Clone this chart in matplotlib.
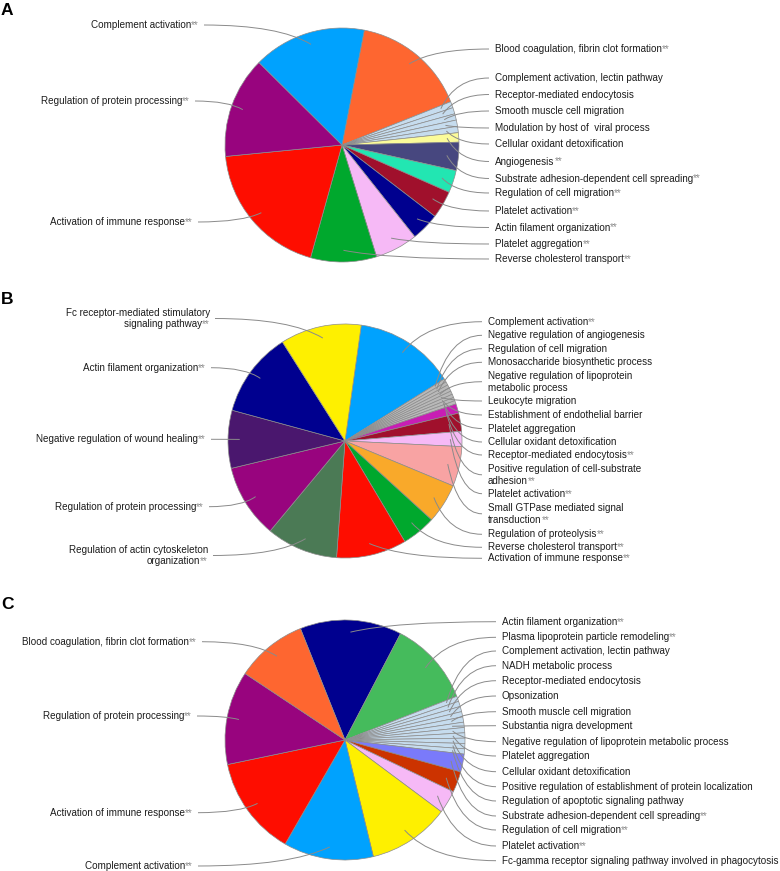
import numpy as np
import matplotlib
matplotlib.use("Agg")
import matplotlib.pyplot as plt
from matplotlib.path import Path
from matplotlib.patches import PathPatch

#######################################################
# DATA  (share of each GO term, clockwise)

A_terms = [
    "Blood coagulation, fibrin clot formation**",
    "Complement activation, lectin pathway",
    "Receptor-mediated endocytosis",
    "Smooth muscle cell migration",
    "Modulation by host of  viral process",
    "Cellular oxidant detoxification",
    "Angiogenesis**",
    "Substrate adhesion-dependent cell spreading**",
    "Regulation of cell migration**",
    "Platelet activation**",
    "Actin filament organization**",
    "Platelet aggregation**",
    "Reverse cholesterol transport**",
    "Activation of immune response**",
    "Regulation of protein processing**",
    "Complement activation**",
]
A_values = [15.9, 0.87, 0.87, 0.87, 0.87, 0.87, 1.3, 3.9, 3.1, 3.8,
            3.9, 5.9, 9.1, 19.1, 14.0, 15.6]
A_colors = ["#fe6630", "#c6dcee", "#c6dcee", "#c6dcee", "#c6dcee", "#c6dcee",
            "#fbfb9a", "#47477f", "#22e6b2", "#a0102c", "#00008f", "#f6b9f6",
            "#00a82d", "#fe0d00", "#98047e", "#00a2fe"]

B_terms = [
    "Complement activation**",
    "Negative regulation of angiogenesis",
    "Regulation of cell migration",
    "Monosaccharide biosynthetic process",
    "Negative regulation of lipoprotein\nmetabolic process",
    "Leukocyte migration",
    "Establishment of endothelial barrier",
    "Platelet aggregation",
    "Cellular oxidant detoxification",
    "Receptor-mediated endocytosis**",
    "Positive regulation of cell-substrate\nadhesion**",
    "Platelet activation**",
    "Small GTPase mediated signal\ntransduction**",
    "Regulation of proteolysis**",
    "Reverse cholesterol transport**",
    "Activation of immune response**",
    "Regulation of actin cytoskeleton\norganization**",
    "Regulation of protein processing**",
    "Negative regulation of wound healing**",
    "Actin filament organization**",
    "Fc receptor-mediated stimulatory\nsignaling pathway**",
]
B_values = [13.9, 0.47, 0.47, 0.47, 0.47, 0.47, 0.47, 0.47, 0.47, 1.3,
            2.5, 2.1, 5.5, 5.5, 4.7, 9.7, 9.9, 10.2, 8.0, 11.8, 11.2]
B_colors = ["#00a2fe", "#b9b9b9", "#b9b9b9", "#b9b9b9", "#b9b9b9", "#b9b9b9",
            "#b9b9b9", "#b9b9b9", "#b9b9b9", "#c81eb4", "#a0102c", "#f6b9f6",
            "#f8a3a3", "#f9a92a", "#00a82d", "#fe0d00", "#4b7a55", "#98047e",
            "#4a176e", "#00008f", "#fef000"]

C_terms = [
    "Actin filament organization**",
    "Plasma lipoprotein particle remodeling**",
    "Complement activation, lectin pathway",
    "NADH metabolic process",
    "Receptor-mediated endocytosis",
    "Opsonization",
    "Smooth muscle cell migration",
    "Substantia nigra development",
    "Negative regulation of lipoprotein metabolic process",
    "Platelet aggregation",
    "Cellular oxidant detoxification",
    "Positive regulation of establishment of protein localization",
    "Regulation of apoptotic signaling pathway",
    "Substrate adhesion-dependent cell spreading**",
    "Regulation of cell migration**",
    "Platelet activation**",
    "Fc-gamma receptor signaling pathway involved in phagocytosis",
    "Complement activation**",
    "Activation of immune response**",
    "Regulation of protein processing**",
    "Blood coagulation, fibrin clot formation**",
]
C_values = [13.7, 11.4, 0.71, 0.71, 0.71, 0.71, 0.71, 0.71, 0.71, 0.71,
            0.71, 0.71, 0.71, 2.4, 2.8, 3.1, 11.0, 12.1, 13.4, 12.6, 9.6]
C_colors = ["#00008f", "#45bb5c", "#c6dcee", "#c6dcee", "#c6dcee", "#c6dcee",
            "#c6dcee", "#c6dcee", "#c6dcee", "#c6dcee", "#c6dcee", "#c6dcee",
            "#c6dcee", "#7a7afa", "#cc3300", "#f6b9f6", "#fef000", "#00a2fe",
            "#fe0d00", "#98047e", "#fe6630"]

#######################################################
# LAYOUT (pixels, y measured from the top)

W, H = 780, 871
FONT = "Liberation Sans"
FS = 7.1
TXT = "#1c1c1c"
STAR = "#8a8a8a"
LINE = "#8a8a8a"
EDGE = "#8c8c8c"
LINE_GAP = 11.6

panels = [
    dict(letter="A", letter_y=3, terms=A_terms, values=A_values, colors=A_colors,
         center=(342, 145), radius=117, start=79,
         right_x=495,
         right_y=[49, 78, 94.5, 111, 128, 144, 161.5, 178.5, 193, 211, 227.5, 244, 259],
         left_x=[199, 190, 193], left_y=[25, 101, 222]),
    dict(letter="B", letter_y=292, terms=B_terms, values=B_values, colors=B_colors,
         center=(345, 441), radius=117, start=82,
         right_x=488,
         right_y=[321.7, 335.3, 348.7, 362.3, 381.7, 401, 415, 428.5, 442, 455,
                  474.8, 493.7, 513.8, 534.3, 547.3, 558.3],
         left_x=[210, 206, 206, 204, 208],
         left_y=[318.5, 367.7, 439.3, 506.7, 555.5]),
    dict(letter="C", letter_y=597, terms=C_terms, values=C_values, colors=C_colors,
         center=(345, 740), radius=120, start=111.8,
         right_x=502,
         right_y=[621.7, 637.3, 651, 665.7, 680.7, 696, 711.7, 725.7, 741.7, 756,
                  771.7, 786.7, 801, 816, 830, 846, 860.7],
         left_x=[197, 192, 193, 193], left_y=[641.7, 716, 812.7, 866]),
]


def put_line(ax, x, y, s, ha):
    star = s.endswith("**")
    body = s[:-2] if star else s
    kw = dict(fontsize=FS, family=FONT, va="center")
    if ha == "left":
        t = ax.text(x, y, body, ha="left", color=TXT, **kw)
        if star:
            ax.annotate("**", xy=(1, 0.5), xycoords=t, ha="left", color=STAR, **kw)
    else:
        if star:
            st = ax.text(x, y, "**", ha="right", color=STAR, **kw)
            ax.annotate(body, xy=(0, 0.5), xycoords=st, ha="right", color=TXT, **kw)
        else:
            ax.text(x, y, body, ha="right", color=TXT, **kw)


def put_label(ax, x, y, s, ha):
    lines = s.split("\n")
    n = len(lines)
    for j, line in enumerate(lines):
        put_line(ax, x, y - (j - (n - 1) / 2) * LINE_GAP, line, ha)


def leader(ax, p0, p3):
    x0, y0 = p0
    x3, y3 = p3
    c = (x3 + 0.3 * (x0 - x3), y0)
    path = Path([p0, c, p3], [Path.MOVETO, Path.CURVE3, Path.CURVE3])
    ax.add_patch(PathPatch(path, fill=False, edgecolor=LINE, lw=0.7, zorder=5))


fig = plt.figure(figsize=(7.8, 8.71), dpi=100)
ax = fig.add_axes([0, 0, 1, 1])

for p in panels:
    cx, cy = p["center"]
    r = p["radius"]
    wedges, _ = ax.pie(
        p["values"],
        colors=p["colors"],
        startangle=p["start"],
        counterclock=False,
        center=(cx, H - cy),
        radius=r,
        wedgeprops=dict(edgecolor=EDGE, linewidth=0.5),
    )

    targets = []
    for w in wedges:
        mid = np.deg2rad((w.theta1 + w.theta2) / 2)
        targets.append((cx + 0.9 * r * np.cos(mid), H - cy + 0.9 * r * np.sin(mid)))

    n_right = len(p["right_y"])
    terms = p["terms"]

    # right side, top to bottom = clockwise order
    for i in range(n_right):
        y = H - p["right_y"][i]
        put_label(ax, p["right_x"], y, terms[i], "left")
        leader(ax, (p["right_x"] - 6, y), targets[i])

    # left side, top to bottom = reverse order
    left_idx = list(range(n_right, len(terms)))[::-1]
    for k, i in enumerate(left_idx):
        y = H - p["left_y"][k]
        x = p["left_x"][k]
        put_label(ax, x, y, terms[i], "right")
        leader(ax, (x + 5, y), targets[i])

    ax.text(1, H - p["letter_y"], p["letter"], fontsize=12.5, fontweight="bold",
            family=FONT, ha="left", va="top", color="black")

ax.set_xlim(0, W)
ax.set_ylim(0, H)
ax.set_aspect("equal")
ax.axis("off")

plt.savefig("out.png", dpi=100)
plt.close()
